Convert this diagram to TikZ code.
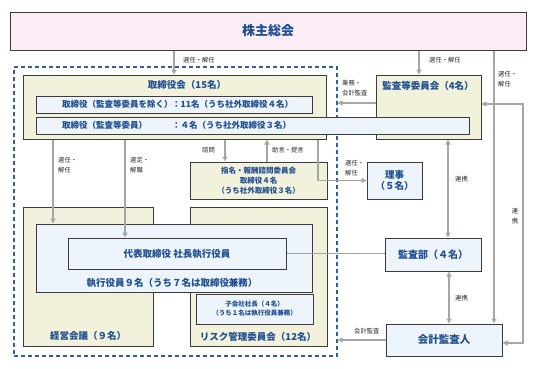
\documentclass[tikz,border=0pt]{standalone}
\usepackage{fontspec}
\setmainfont{Noto Sans CJK JP}
\usetikzlibrary{arrows.meta}
\definecolor{pinkfill}{HTML}{FBEDF5}
\definecolor{beigefill}{HTML}{F2F2DC}
\definecolor{bluefill}{HTML}{EDF4FC}
\definecolor{boxline}{HTML}{3C3C3C}
\definecolor{textblue}{HTML}{1F4E91}
\definecolor{arrowgray}{HTML}{A6A6A6}
\definecolor{dashblue}{HTML}{2F5F9E}
\tikzset{
  box/.style={draw=boxline, line width=1pt, inner sep=0pt},
  pinkbox/.style={box, fill=pinkfill},
  beigebox/.style={box, fill=beigefill},
  bluebox/.style={box, fill=bluefill},
  frame/.style={draw=dashblue, line width=1.2pt, dash pattern=on 4pt off 3pt, inner sep=0pt},
  title/.style={text=textblue, font=\bfseries\fontsize{9.5}{11}\selectfont, inner sep=0pt, align=center},
  rowtext/.style={text=textblue, font=\bfseries\fontsize{8.5}{10}\selectfont, inner sep=0pt},
  note/.style={text=black!85, font=\fontsize{6.3}{9.5}\selectfont, inner sep=0pt, align=left},
  arr/.style={draw=arrowgray, line width=1.3pt, -{Triangle[width=5pt,length=5pt]}},
  biarr/.style={draw=arrowgray, line width=1.3pt, {Triangle[width=5pt,length=5pt]}-{Triangle[width=5pt,length=5pt]}},
  link/.style={draw=arrowgray, line width=1.3pt},
}
\begin{document}
\begin{tikzpicture}[x=1pt,y=-1pt]
\useasboundingbox (0,0) rectangle (536,368);
% outer frame and top box
\node[frame, minimum width=323, minimum height=289] (grp) at (175.5,211.5) {};
\node[pinkbox, title, font=\bfseries\fontsize{13}{15}\selectfont, minimum width=516, minimum height=38] (sh) at (268,31) {株主総会};
% board
\node[beigebox, minimum width=303, minimum height=64] (bd) at (174.5,107) {};
\node[title] (bdT) at (187,85) {取締役会（15名）};
\node[bluebox, minimum width=276, minimum height=17] (r1) at (174,104.5) {};
\node[rowtext, anchor=west] (r1T) at (62,104.5) {\makebox[110pt][l]{取締役（監査等委員を除く）}：11名（うち社外取締役４名）};
% audit committee
\node[beigebox, minimum width=105, minimum height=64] (ac) at (428.5,107) {};
\node[title] (acT) at (428,86) {監査等委員会（4名）};
\node[bluebox, minimum width=433, minimum height=17] (r2) at (252.5,125.5) {};
\node[rowtext, anchor=west] (r2T) at (62,125.5) {\makebox[110pt][l]{取締役（監査等委員）}：４名（うち社外取締役３名）};
% committees
\node[beigebox, title, font=\bfseries\fontsize{7.5}{10}\selectfont, minimum width=137, minimum height=37] (nm) at (258.5,180.5) {指名・報酬諮問委員会\\取締役４名\\（うち社外取締役３名）};
\node[bluebox, title, font=\bfseries\fontsize{9.5}{11}\selectfont, minimum width=55, minimum height=37] (rj) at (394.5,180.5) {理事\\（５名）};
\node[beigebox, minimum width=130, minimum height=139] (mm) at (88,276.5) {};
\node[title] (mmT) at (88,336) {経営会議（９名）};
\node[beigebox, minimum width=137, minimum height=139] (rk) at (258.5,276.5) {};
\node[title] (rkT) at (258,337) {リスク管理委員会（12名）};
% officers
\node[bluebox, minimum width=276, minimum height=68] (eo) at (174,258) {};
\node[title] (eoT) at (172,283) {執行役員９名（うち７名は取締役兼務）};
\node[bluebox, title, minimum width=218, minimum height=31] (pr) at (177,253.5) {代表取締役 社長執行役員};
\node[bluebox, title, font=\bfseries\fontsize{6.5}{9}\selectfont, minimum width=117, minimum height=30] (sb) at (254.5,309) {子会社社長（４名）\\（うち１名は執行役員兼務）};
% audit side
\node[bluebox, title, font=\bfseries\fontsize{10}{12}\selectfont, minimum width=96, minimum height=33] (ad) at (433,254.5) {監査部（４名）};
\node[bluebox, title, font=\bfseries\fontsize{10.5}{12}\selectfont, minimum width=116, minimum height=32] (aa) at (444,340) {会計監査人};
% connectors
\draw[arr] (sh.south -| 174,0) -- (bd.north -| 174,0);
\draw[arr] (sh.south -| 419,0) -- (ac.north -| 419,0);
\draw[arr] (sh.south -| 494,0) -- (aa.north -| 494,0);
\draw[arr] (bd.south -| 53,0) -- (eo.north -| 53,0);
\draw[arr] (bd.south -| 125,0) -- (pr.north -| 125,0);
\draw[arr] (bd.south -| 225,0) -- (nm.north -| 225,0);
\draw[arr] (nm.north -| 267,0) -- (bd.south -| 267,0);
\draw[arr] (bd.south -| 318,0) |- (rj.west);
\draw[arr] (ac.west |- 0,103) -- (grp.east |- 0,103);
\draw[biarr] (ac.south -| 448,0) -- (ad.north -| 448,0);
\draw[link] (pr.east) -- (ad.west |- pr.east);
\draw[biarr] (ad.south -| 449,0) -- (aa.north -| 449,0);
\draw[arr] (aa.west) -- (grp.east |- aa.west);
\draw[biarr] (aa.east |- 0,343) -- (523,343) -- (523,104) -- (ac.east |- 0,104);
% labels
\node[note, anchor=west] (n1) at (183,60) {選任・解任};
\node[note, anchor=west] (n2) at (429,60) {選任・解任};
\node[note, anchor=west] (n3) at (498,79) {選任・\\解任};
\node[note, anchor=west] (n4) at (58,165) {選任・\\解任};
\node[note, anchor=west] (n5) at (130,165) {選定・\\解職};
\node[note, anchor=west] (n6) at (202,150) {諮問};
\node[note, anchor=west] (n7) at (272,150) {助言・提言};
\node[note, anchor=west] (n8) at (345,168) {選任・\\解任};
\node[note, anchor=west] (n9) at (342,88) {業務・\\会計監査};
\node[note, anchor=west] (n10) at (455,179) {連携};
\node[note, anchor=west] (n11) at (455,298) {連携};
\node[note, anchor=west] (n12) at (354,331) {会計監査};
\node[note, align=center] (n13) at (515,216) {連\\携};
\end{tikzpicture}
\end{document}
